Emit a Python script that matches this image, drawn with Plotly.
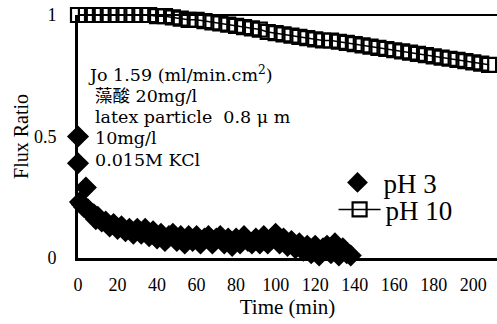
import plotly.graph_objects as go

# pH 3 series (time in min, flux ratio)
t_ph3 = [0, 0, 1, 2, 3, 4, 5, 6, 7, 8, 9, 10, 12, 14, 16, 18, 20, 22, 24, 26, 28, 30,
         32, 34, 36, 38, 40, 42, 44, 46, 48, 50, 52, 54, 56, 58, 60, 62, 64, 66, 68,
         70, 72, 74, 76, 78, 80, 82, 84, 86, 88, 90, 92, 94, 96, 98, 100, 102, 104,
         106, 108, 110, 112, 114, 116, 118, 120, 122, 124, 126, 128, 130, 132, 134,
         136, 138]
v_ph3 = [0.50, 0.39, 0.23, 0.22, 0.21, 0.29, 0.20, 0.19, 0.18, 0.18, 0.16, 0.17,
         0.15, 0.15, 0.13, 0.14, 0.12, 0.13, 0.11, 0.12, 0.10, 0.12, 0.10, 0.12,
         0.09, 0.11, 0.08, 0.10, 0.07, 0.09, 0.10, 0.07, 0.09, 0.06, 0.09, 0.07,
         0.09, 0.06, 0.08, 0.09, 0.06, 0.08, 0.09, 0.06, 0.08, 0.05, 0.08, 0.06,
         0.09, 0.07, 0.06, 0.08, 0.06, 0.09, 0.06, 0.08, 0.10, 0.06, 0.08, 0.05,
         0.07, 0.04, 0.06, 0.03, 0.05, 0.02, 0.05, 0.01, 0.04, 0.05, 0.02, 0.06,
         0.01, 0.04, 0.02, 0.01]

# pH 10 series
t_ph10 = list(range(0, 212, 4))
v_ph10 = [1.0, 1.0, 1.0, 1.0, 1.0, 1.0, 1.0, 1.0, 1.0, 1.0, 0.995, 0.995, 0.99,
          0.985, 0.98, 0.98, 0.975, 0.97, 0.965, 0.96, 0.955, 0.95, 0.945, 0.94,
          0.93, 0.925, 0.92, 0.915, 0.91, 0.905, 0.90, 0.895, 0.895, 0.89, 0.885,
          0.88, 0.875, 0.87, 0.865, 0.86, 0.855, 0.85, 0.845, 0.84, 0.835, 0.83,
          0.825, 0.82, 0.815, 0.81, 0.805, 0.80, 0.795]

x_ticks = [0, 20, 40, 60, 80, 100, 120, 140, 160, 180, 200]
y_ticks = [0, 0.5, 1]
y_tick_labels = ["0", "0.5", "1"]

conditions = ["Jo 1.59 (ml/min.cm<sup>2</sup>)", "藻酸 20mg/l",
              "latex particle  0.8 μ m", "10mg/l", "0.015M KCl"]

FONT = "Liberation Serif, Noto Sans CJK TC, serif"
FONT_NOTE = "DejaVu Serif, Noto Sans CJK TC, serif"

fig = go.Figure()
fig.add_trace(go.Scatter(
    x=t_ph10, y=v_ph10, name="pH 10", mode="lines+markers",
    line=dict(color="black", width=1.5),
    marker=dict(symbol="square-open", size=14, color="black", line=dict(width=2.2)),
    cliponaxis=False, legend="legend",
))
fig.add_trace(go.Scatter(
    x=t_ph3, y=v_ph3, name="pH 3", mode="markers",
    marker=dict(symbol="diamond", size=17, color="black"),
    cliponaxis=False, legend="legend2",
))

leg_common = dict(xanchor="left", yanchor="middle", bgcolor="rgba(0,0,0,0)",
                  font=dict(size=27, family=FONT), itemwidth=42)

fig.update_layout(
    width=497, height=324,
    margin=dict(l=78, r=0, t=15, b=66),
    paper_bgcolor="white", plot_bgcolor="white",
    font=dict(family=FONT, color="black", size=18),
    showlegend=True,
    legend=dict(x=0.610, y=0.198, **leg_common),
    legend2=dict(x=0.605, y=0.309, **leg_common),
    xaxis=dict(range=[0, 212], tickvals=x_ticks, showgrid=False, zeroline=False,
               showline=True, linecolor="black", linewidth=3, ticks="",
               automargin=False, ticklabelstandoff=8,
               tickfont=dict(size=18),
               title=dict(text="Time (min)", font=dict(size=21), standoff=6)),
    yaxis=dict(range=[0, 1], tickvals=y_ticks, ticktext=y_tick_labels, showgrid=False,
               zeroline=False, showline=True, linecolor="black", linewidth=3, ticks="",
               automargin=False, ticklabelstandoff=15,
               tickfont=dict(size=18),
               title=dict(text="Flux Ratio", font=dict(size=20), standoff=0)),
)

# top frame line
fig.add_shape(type="line", xref="x domain", yref="y domain", x0=0, x1=1, y0=1, y1=1,
              line=dict(color="black", width=1.8), layer="below")

line_y = [0.757, 0.668, 0.580, 0.492, 0.403]
line_x = [0.020, 0.036, 0.036, 0.036, 0.036]
for txt, ly, lx in zip(conditions, line_y, line_x):
    fig.add_annotation(
        xref="x domain", yref="y domain", x=lx, y=ly, xanchor="left", yanchor="middle",
        text=txt, showarrow=False, align="left",
        font=dict(size=17.5, family=FONT_NOTE),
    )

fig.write_html("out.html", config={"displayModeBar": False},
               post_script="document.body.style.margin='0';")
